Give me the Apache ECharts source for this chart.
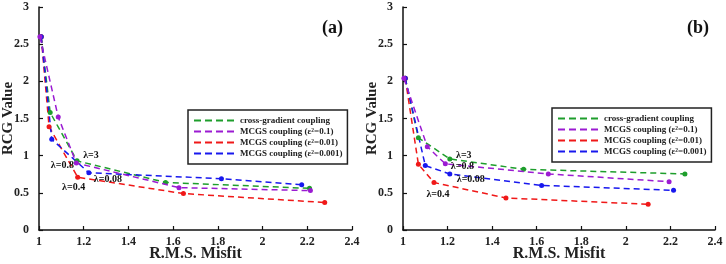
<!DOCTYPE html>
<html>
<head>
<meta charset="utf-8">
<script src="https://cdn.jsdelivr.net/npm/echarts@6/dist/echarts.min.js"></script>
<style>html,body{margin:0;padding:0;background:#fff}#c{width:726px;height:264px}</style>
</head>
<body>
<div id="c"></div>
<script>
// Panel (a)
const aCrossX = [1.01, 1.05, 1.17, 1.566, 2.21];
const aCrossY = [2.60, 1.58, 0.93, 0.64, 0.56];
const aE1X = [1.004, 1.086, 1.167, 1.626, 2.214];
const aE1Y = [2.60, 1.52, 0.90, 0.57, 0.53];
const aE01X = [1.01, 1.045, 1.173, 1.646, 2.278];
const aE01Y = [2.60, 1.39, 0.71, 0.49, 0.37];
const aE001X = [1.01, 1.057, 1.223, 1.816, 2.175];
const aE001Y = [2.60, 1.22, 0.77, 0.69, 0.61];
// Panel (b)
const bCrossX = [1.01, 1.069, 1.21, 1.541, 2.265];
const bCrossY = [2.04, 1.24, 0.956, 0.817, 0.754];
const bE1X = [1.004, 1.109, 1.19, 1.652, 2.194];
const bE1Y = [2.04, 1.12, 0.89, 0.754, 0.65];
const bE01X = [1.01, 1.069, 1.139, 1.462, 2.10];
const bE01Y = [2.04, 0.885, 0.638, 0.431, 0.346];
const bE001X = [1.01, 1.10, 1.21, 1.622, 2.214];
const bE001Y = [2.04, 0.867, 0.754, 0.60, 0.534];

const seriesNames = ['cross-gradient coupling', 'MCGS coupling (ε²=0.1)', 'MCGS coupling (ε²=0.01)', 'MCGS coupling (ε²=0.001)'];
const colors = ['#1e9e2c', '#9b1bd2', '#f01818', '#1818ee'];
const panelTitles = ['(a)', '(b)'];
const xTicks = [1, 1.2, 1.4, 1.6, 1.8, 2, 2.2, 2.4];
const yTicks = [0, 0.5, 1, 1.5, 2, 2.5, 3];
// lambda annotations: [series index, point index, text]
const aLambda = [[0, 2, 'λ=3'], [1, 2, 'λ=0.8'], [2, 2, 'λ=0.4'], [3, 2, 'λ=0.08']];
const bLambda = [[0, 2, 'λ=3'], [1, 2, 'λ=0.8'], [2, 2, 'λ=0.4'], [3, 2, 'λ=0.08']];
// label offsets (style)
const aOffsets = [[14, -5], [-14, 2], [-4, 10], [19, 7]];
const bOffsets = [[14, -4], [17, 3], [4, 12], [21, 5]];

const FONT = 'Liberation Serif';
const panels = [
  {xs: [aCrossX, aE1X, aE01X, aE001X], ys: [aCrossY, aE1Y, aE01Y, aE001Y], lam: aLambda, off: aOffsets},
  {xs: [bCrossX, bE1X, bE01X, bE001X], ys: [bCrossY, bE1Y, bE01Y, bE001Y], lam: bLambda, off: bOffsets}
];

const grids = [
  {left: 39, top: 7, width: 313, height: 223, outerBoundsMode: 'none', containLabel: false},
  {left: 403, top: 7, width: 312, height: 223, outerBoundsMode: 'none', containLabel: false}
];
const xAxes = [], yAxes = [], series = [], legends = [], graphics = [];
panels.forEach((p, g) => {
  xAxes.push({
    type: 'value', gridIndex: g, min: 1, max: 2.4, interval: 0.2,
    name: 'R.M.S. Misfit', nameLocation: 'middle', nameGap: 16, nameMoveOverlap: false,
    nameTextStyle: {fontFamily: FONT, fontWeight: 'bold', fontSize: 16, color: '#222'},
    axisLine: {show: true, lineStyle: {color: '#111', width: 1.5}},
    axisTick: {show: true, inside: true, length: 4, lineStyle: {color: '#111', width: 1.2}},
    axisLabel: {fontFamily: FONT, fontWeight: 'bold', fontSize: 12, color: '#222', margin: 6,
      formatter: v => String(+v.toFixed(1))},
    splitLine: {show: false}
  });
  yAxes.push({
    type: 'value', gridIndex: g, min: 0, max: 3, interval: 0.5,
    name: 'RCG Value', nameLocation: 'middle', nameGap: 23, nameRotate: 90, nameMoveOverlap: false,
    nameTextStyle: {fontFamily: FONT, fontWeight: 'bold', fontSize: 15, color: '#222'},
    axisLine: {show: true, lineStyle: {color: '#111', width: 1.5}},
    axisTick: {show: true, inside: true, length: 4, lineStyle: {color: '#111', width: 1.2}},
    axisLabel: {fontFamily: FONT, fontWeight: 'bold', fontSize: 12, color: '#222', margin: 10,
      formatter: v => String(+v.toFixed(1))},
    splitLine: {show: false}
  });
  p.xs.forEach((xs, s) => {
    const data = xs.map((x, i) => {
      const item = {value: [x, p.ys[s][i]]};
      p.lam.forEach((l, k) => {
        if (l[0] === s && l[1] === i) {
          item.label = {show: true, position: 'inside', offset: p.off[k], formatter: l[2],
            fontFamily: FONT, fontWeight: 'bold', fontSize: 10, color: '#111'};
        }
      });
      return item;
    });
    series.push({
      type: 'line', name: seriesNames[s], xAxisIndex: g, yAxisIndex: g,
      data: data, symbol: 'circle', symbolSize: 5, color: colors[s],
      lineStyle: {type: [6, 4], width: 1.5, color: colors[s]},
      itemStyle: {color: colors[s]},
      label: {show: false}, animation: false, z: 3 + (s === 1 ? 1 : 0)
    });
  });
  legends.push({
    show: true, orient: 'vertical', left: g === 0 ? 188 : 552, top: g === 0 ? 110 : 108,
    padding: [6, 5, 6, 6], itemGap: 2, itemWidth: 42, itemHeight: 2,
    icon: 'path://M0,0h7v2h-7zM11,0h7v2h-7zM22,0h7v2h-7zM33,0h7v2h-7z',
    borderColor: '#222', borderWidth: 1.5, backgroundColor: '#fff',
    data: seriesNames.map(n => ({name: n})),
    textStyle: {fontFamily: FONT, fontWeight: 'bold', fontSize: 9, color: '#222', lineHeight: 9},
    selectedMode: false
  });
  graphics.push({
    type: 'text', left: g === 0 ? 322 : 687, top: 19,
    style: {text: panelTitles[g], font: 'bold 18px "Liberation Serif"', fill: '#111'}
  });
});

const chart = echarts.init(document.getElementById('c'), null, {renderer: 'canvas'});
chart.setOption({
  animation: false,
  grid: grids,
  xAxis: xAxes,
  yAxis: yAxes,
  series: series,
  legend: legends,
  graphic: graphics
});
</script>
</body>
</html>
